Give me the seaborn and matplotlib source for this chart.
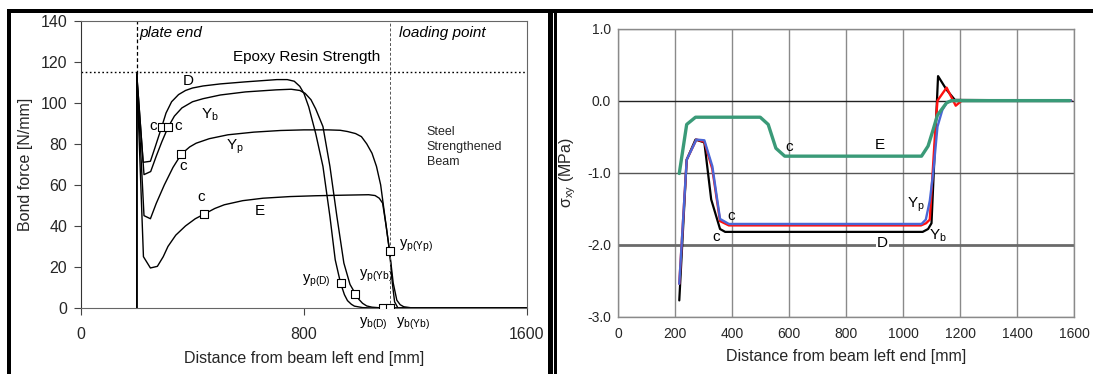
import matplotlib
matplotlib.use("Agg")
import matplotlib.pyplot as plt
import seaborn as sns
import numpy as np
import pandas as pd
from matplotlib.patches import Rectangle

# ---------------- data: left panel (bond force) ----------------
D_x = [200, 200, 223, 249, 265, 289, 305, 325, 350, 375, 400, 438, 500, 590, 703, 740, 765, 785, 800, 817,
       842, 868, 893, 912, 931, 945, 956, 970, 981, 1010, 1044, 1600]
D_y = [0, 114, 71, 71.5, 78, 88, 95, 100.5, 104, 106, 107.2, 108.2, 109.2, 110.2, 111.3, 111.3, 110.5, 108, 104.5, 98,
       85, 69, 44.6, 23.5, 12.2, 6.5, 3.6, 1.8, 0.9, 0.2, 0, 0]
Yb_x = [200, 200, 226, 250, 270, 290, 312, 335, 362, 400, 438, 500, 590, 700, 754, 785, 804, 825, 842, 868,
        893, 918, 943, 965, 984, 997, 1010, 1025, 1044, 1082, 1600]
Yb_y = [0, 114, 65, 66.5, 74, 81, 88, 93.5, 97.5, 100.5, 102, 103.8, 105.3, 106.3, 106.6, 106, 104.6, 101.5, 97, 88.4,
        69, 44.6, 21.9, 11.5, 7.0, 4.2, 2.3, 1.0, 0.4, 0, 0]
Yp_x = [200, 200, 226, 249, 270, 299, 330, 360, 390, 413, 460, 527, 620, 716, 800, 886, 930, 956, 985, 1006,
        1025, 1044, 1060, 1075, 1095, 1107, 1120, 1133, 1145, 1158, 1190, 1600]
Yp_y = [0, 114, 45, 43.5, 51, 60, 68.5, 75, 78.5, 80.3, 82.5, 84.4, 85.7, 86.5, 86.8, 86.8, 86.6, 86, 85, 83.5,
        80, 75.4, 69, 60, 39.7, 27.6, 12.2, 3.8, 1.6, 0.6, 0, 0]
E_x = [200, 200, 224, 249, 274, 295, 312, 340, 375, 410, 441, 480, 514, 580, 653, 750, 842, 950, 1032, 1055,
       1070, 1082, 1095, 1107, 1117, 1125, 1137, 1600]
E_y = [0, 114, 25, 19.5, 20.3, 25, 30, 35.5, 40, 43.5, 45.7, 48.5, 50.3, 52.3, 53.5, 54.3, 54.7, 55, 55.2, 54.8,
       53.5, 51.1, 39.7, 27.6, 12, 3, 0, 0]

sq_x = [289, 312, 360, 441, 931, 984, 1107, 1082, 1107]
sq_y = [88, 88, 75, 46, 12.2, 7.0, 27.6, 0, 0]

plate_end_x = 200
loading_x = 1107
epoxy_strength = 115

# ---------------- data: right panel (shear stress) ----------------
rD_x = [215, 241, 272, 303, 327, 358, 376, 1069, 1088, 1100, 1123, 1153, 1182, 1590]
rD_y = [-2.77, -0.82, -0.54, -0.58, -1.37, -1.78, -1.82, -1.82, -1.78, -1.70, 0.34, 0.15, 0.01, 0]
rYb_x = [215, 241, 275, 303, 331, 358, 389, 1063, 1081, 1094, 1104, 1114, 1121, 1153, 1185, 1206, 1590]
rYb_y = [-2.54, -0.82, -0.54, -0.57, -0.95, -1.67, -1.73, -1.73, -1.70, -1.65, -1.0, -0.36, 0.0, 0.18, -0.07, 0, 0]
rYp_x = [215, 241, 275, 303, 331, 358, 389, 1065, 1080, 1094, 1106, 1121, 1138, 1153, 1170, 1590]
rYp_y = [-2.54, -0.82, -0.54, -0.55, -0.91, -1.64, -1.71, -1.71, -1.65, -1.39, -1.0, -0.36, -0.13, -0.03, 0, 0]
rE_x = [215, 241, 272, 499, 527, 554, 585, 1065, 1088, 1106, 1121, 1153, 1170, 1585]
rE_y = [-1.01, -0.33, -0.23, -0.23, -0.33, -0.66, -0.77, -0.77, -0.63, -0.40, -0.20, -0.03, 0, 0]

left_xticks = [0, 800, 1600]
left_yticks = [0, 20, 40, 60, 80, 100, 120, 140]
right_xticks = [0, 200, 400, 600, 800, 1000, 1200, 1400, 1600]
right_yticks = [1.0, 0.0, -1.0, -2.0, -3.0]

# ---------------- style ----------------
sns.set_theme(style="white")
plt.rcParams['font.family'] = ['Liberation Sans', 'DejaVu Sans']
plt.rcParams['axes.unicode_minus'] = False
plt.rcParams['mathtext.fontset'] = 'custom'
plt.rcParams['mathtext.rm'] = 'Liberation Sans'
plt.rcParams['mathtext.it'] = 'Liberation Sans:italic'
plt.rcParams['mathtext.sf'] = 'Liberation Sans'

W, H = 1093, 374
fig = plt.figure(figsize=(W / 100, H / 100), dpi=100)

def fx(px):
    return px / W

def fy(py):
    return 1 - py / H

# frame decorations (black borders)
for (x0, y0, x1, y1) in [(7, 9, 1093, 12.5), (7, 9, 10.7, 374), (548.3, 9, 552.7, 374), (554.3, 9, 556.7, 374)]:
    fig.patches.append(Rectangle((fx(x0), fy(y1)), fx(x1) - fx(x0), fy(y0) - fy(y1),
                                 transform=fig.transFigure, facecolor='black', edgecolor='none'))

# ---------------- left panel ----------------
axL = fig.add_axes([fx(81), fy(308), fx(527) - fx(81), fy(20.7) - fy(308)])
lw = 1.0
for xs, ys in [(D_x, D_y), (Yb_x, Yb_y), (Yp_x, Yp_y), (E_x, E_y)]:
    sns.lineplot(x=xs, y=ys, ax=axL, sort=False, estimator=None, color='black', lw=lw)
axL.axvline(plate_end_x, ymin=114 / 140, color='black', ls=(0, (3, 2)), lw=0.9)
axL.axvline(loading_x, color='#555555', ls=(0, (3, 2)), lw=0.7)
axL.axhline(epoxy_strength, color='black', ls=(0, (1.2, 1.8)), lw=1.0)
sns.scatterplot(x=sq_x, y=sq_y, ax=axL, marker='s', s=30, facecolor='white',
                edgecolor='black', linewidth=0.8, zorder=5)

axL.set_xlim(0, 1600)
axL.set_ylim(0, 140)
axL.set_xticks(left_xticks)
axL.set_yticks(left_yticks)
axL.tick_params(axis='both', labelsize=11.5, length=5, width=0.8, color='#444444', direction='out',
                left=True, bottom=True)
axL.tick_params(axis='x', pad=9)
axL.tick_params(axis='y', pad=5)
for sp in axL.spines.values():
    sp.set_color('#666666')
    sp.set_linewidth(0.8)
axL.spines['left'].set_color('#333333')
axL.set_xlabel('Distance from beam left end [mm]', fontsize=11.5)
axL.set_ylabel('Bond force [N/mm]', fontsize=11.5)
axL.xaxis.set_label_coords(0.5, -0.148)
axL.yaxis.set_label_coords(-0.108, 0.5)

tk = dict(fontsize=11, color='black')
axL.text(211, 134, 'plate end', fontstyle='italic', ha='left', va='center', **tk)
axL.text(1140, 134, 'loading point', fontstyle='italic', ha='left', va='center', **tk)
axL.text(808, 122.5, 'Epoxy Resin Strength', ha='center', va='center', **tk)
axL.text(1240, 78.5, 'Steel\nStrengthened\nBeam', ha='left', va='center', fontsize=9, linespacing=1.35)
axL.text(384, 110.8, 'D', ha='center', va='center', **tk)
axL.text(463, 94, r'$\mathregular{Y_b}$', ha='center', va='center', **tk)
axL.text(552, 78.7, r'$\mathregular{Y_p}$', ha='center', va='center', **tk)
axL.text(640, 47.5, 'E', ha='center', va='center', **tk)
for (cx, cy) in [(258, 88.7), (347, 88.7), (366, 69.3), (432, 54)]:
    axL.text(cx, cy, 'c', ha='center', va='center', **tk)
sub = dict(fontsize=10.5, color='black', va='center')
axL.text(895, 13, r'$\mathregular{y_{p(D)}}$', ha='right', **sub)
axL.text(1058, 15.5, r'$\mathregular{y_{p(Yb)}}$', ha='center', **sub)
axL.text(1140, 30.5, r'$\mathregular{y_{p(Yp)}}$', ha='left', **sub)
axL.text(1048, -7.5, r'$\mathregular{y_{b(D)}}$', ha='center', **sub)
axL.text(1190, -7.5, r'$\mathregular{y_{b(Yb)}}$', ha='center', **sub)

# ---------------- right panel ----------------
axR = fig.add_axes([fx(618), fy(317), fx(1074) - fx(618), fy(28.5) - fy(317)])
axR.set_xlim(0, 1600)
axR.set_ylim(-3, 1)
axR.set_xticks(right_xticks)
axR.set_yticks(right_yticks)
axR.set_yticklabels([f'{v:.1f}' for v in right_yticks])
axR.grid(True, color='#8a8a8a', lw=1.0)
for gl, v in zip(axR.get_ygridlines(), right_yticks):
    if v == 0.0:
        gl.set_color('#222222'); gl.set_linewidth(1.0)
    elif v == -2.0:
        gl.set_color('#6a6a6a'); gl.set_linewidth(2.0)
    elif v == -1.0:
        gl.set_color('#555555')
axR.set_axisbelow(True)

sns.lineplot(x=rD_x, y=rD_y, ax=axR, sort=False, estimator=None, color='black', lw=1.6)
sns.lineplot(x=rYb_x, y=rYb_y, ax=axR, sort=False, estimator=None, color='#ff1010', lw=1.7)
sns.lineplot(x=rYp_x, y=rYp_y, ax=axR, sort=False, estimator=None, color='#4a66d6', lw=1.7)
sns.lineplot(x=rE_x, y=rE_y, ax=axR, sort=False, estimator=None, color='#3a9a78', lw=2.4)

axR.tick_params(axis='both', labelsize=10, length=0)
axR.tick_params(axis='x', pad=7)
axR.tick_params(axis='y', pad=5)
for sp in axR.spines.values():
    sp.set_color('#8a8a8a')
    sp.set_linewidth(1.0)
axR.set_xlabel('Distance from beam left end [mm]', fontsize=11.5)
axR.set_ylabel(r'$\mathregular{\sigma_{xy}}$ (MPa)', fontsize=11.5)
axR.xaxis.set_label_coords(0.5, -0.112)
axR.yaxis.set_label_coords(-0.088, 0.5)

rk = dict(fontsize=11, color='black', ha='center', va='center')
axR.text(600, -0.64, 'c', **rk)
axR.text(920, -0.62, 'E', **rk)
axR.text(398, -1.6, 'c', **rk)
axR.text(346, -1.89, 'c', **rk)
axR.text(928, -1.98, 'D', bbox=dict(facecolor='white', edgecolor='none', pad=0.5), **rk)
axR.text(1045, -1.45, r'$\mathregular{Y_p}$', **rk)
axR.text(1122, -1.88, r'$\mathregular{Y_b}$', **rk)

fig.savefig('out.png', dpi=100)
